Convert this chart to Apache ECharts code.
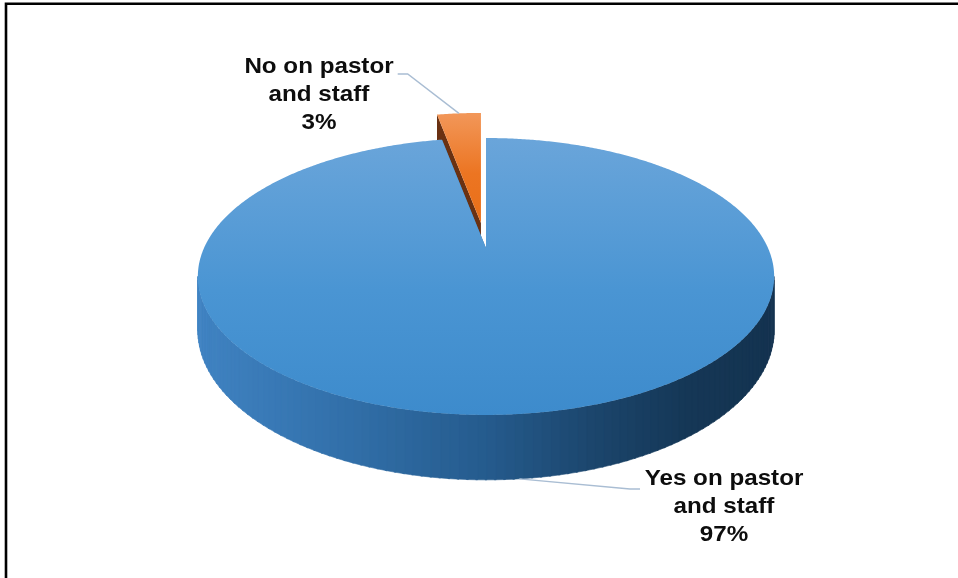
<!DOCTYPE html>
<html>
<head>
<meta charset="utf-8">
<script src="https://cdn.jsdelivr.net/npm/echarts@6/dist/echarts.min.js"></script>
<style>
  html, body { margin: 0; padding: 0; background: #ffffff; }
  #chart { width: 958px; height: 578px; }
</style>
</head>
<body>
<div id="chart"></div>
<script>
// Survey answers
const categories = ['Yes on pastor and staff', 'No on pastor and staff'];
const labelNames = ['Yes on pastor\nand staff', 'No on pastor\nand staff'];
const values = [97, 3];
const explodedIndex = 1;

// Slice colours: top face gradient stops and cut-wall colour
const topColors = [['#6aa5da', '#4a95d3', '#3d8bcc'], ['#f29759', '#ec7522', '#e96f18']];
const wallColors = ['#2f6ea6', '#6a3112'];

// Disc geometry on the page (perspective view of a tilted cylinder)
const CX = 486, CY = 248;          // projected centre of the top face
const RX = 282, RY = 132.6;        // half axes before perspective
const PERSP = 0.2056;              // depth foreshortening
const DEPTH = 51.6;                // thickness of the disc
const EXPLODE = 0.19;              // pull-out distance for the detached slice

// Label placement (centre of each text block) and leader elbows
const labelPos = [[724, 507], [319, 95]];
const leaderEnds = [[[630, 489], [640, 489]], [[407.7, 74], [397.7, 74]]];

const total = values.reduce((a, b) => a + b, 0);
const starts = [];
(function () {
  let acc = 0;
  values.forEach(v => { starts.push(acc / total * 360); acc += v; });
})();

const RAD = Math.PI / 180;
const silRight = Math.acos(-PERSP) / RAD;   // where the rim turns away from view
const silLeft = 360 - silRight;

function proj(deg, r) {
  const t = deg * RAD;
  const u = r * Math.sin(t), v = r * Math.cos(t);
  const p = 1 / (1 + PERSP * v);
  return [CX + RX * u * p, CY - RY * v * p, p];
}

// side shading across the width of the disc
const sideStops = [
  [0.00, [64, 131, 194]],
  [0.25, [50, 112, 170]],
  [0.50, [37, 91, 141]],
  [0.70, [27, 68, 106]],
  [0.85, [21, 55, 86]],
  [1.00, [20, 51, 80]]
];
function sideColor(x) {
  let t = (x - (CX - 288)) / 576;
  t = Math.max(0, Math.min(1, t));
  for (let k = 1; k < sideStops.length; k++) {
    if (t <= sideStops[k][0]) {
      const a = sideStops[k - 1], b = sideStops[k];
      const f = (t - a[0]) / (b[0] - a[0]);
      const c = a[1].map((c0, j) => Math.round(c0 + (b[1][j] - c0) * f));
      return 'rgb(' + c.join(',') + ')';
    }
  }
  return 'rgb(20,51,80)';
}

function renderItem(params, api) {
  const i = params.dataIndex;
  const val = api.value(0);
  const a0 = starts[i];
  const a1 = a0 + val / total * 360;
  const mid = (a0 + a1) / 2;
  const ex = i === explodedIndex ? EXPLODE : 0;
  const dx = RX * ex * Math.sin(mid * RAD);
  const dy = -RY * ex * Math.cos(mid * RAD);
  const P = (deg, r) => { const q = proj(deg, r); return [q[0] + dx, q[1] + dy, q[2]]; };
  const down = q => [q[0], q[1] + DEPTH * q[2]];
  const zb = i === explodedIndex ? 0 : 20;
  const children = [];

  // cut walls
  const c = P(0, 0);
  [a0, a1].forEach(edge => {
    const r = P(edge, 1);
    children.push({
      type: 'polygon', z2: zb + 1,
      shape: { points: [[c[0], c[1]], [r[0], r[1]], down(r), down(c)] },
      style: { fill: wallColors[i] }
    });
  });

  // outer rim, front part only
  const w0 = Math.max(a0, silRight), w1 = Math.min(a1, silLeft);
  if (w1 > w0) {
    const step = 1.5;
    for (let d = w0; d < w1; d += step) {
      const e = Math.min(d + step, w1);
      const p0 = P(d, 1), p1 = P(e + 0.3 > w1 ? w1 : e + 0.3, 1);
      const col = sideColor((p0[0] + p1[0]) / 2);
      children.push({
        type: 'polygon', z2: zb + 2,
        shape: { points: [[p0[0], p0[1]], [p1[0], p1[1]], down(p1), down(p0)] },
        style: { fill: col, stroke: col, lineWidth: 0.6 }
      });
    }
  }

  // top face
  const pts = [[c[0], c[1]]];
  for (let d = a0; d < a1; d += 0.5) { const q = P(d, 1); pts.push([q[0], q[1]]); }
  const qe = P(a1, 1); pts.push([qe[0], qe[1]]);
  const ys = pts.map(p => p[1]);
  const yTop = Math.min.apply(null, ys), yBot = Math.max.apply(null, ys);
  const tc = topColors[i];
  children.push({
    type: 'polygon', z2: zb + 3,
    shape: { points: pts },
    style: {
      fill: new echarts.graphic.LinearGradient(0, yTop, 0, yBot, [
        { offset: 0, color: tc[0] }, { offset: 0.55, color: tc[1] }, { offset: 1, color: tc[2] }
      ], true)
    }
  });

  // leader line: from the rim at the slice's middle angle to the label
  const anchorTop = P(mid, 1);
  const onFront = Math.cos(mid * RAD) < 0;
  const anchor = onFront ? down(anchorTop) : [anchorTop[0], anchorTop[1]];
  const le = leaderEnds[i];
  children.push({
    type: 'polyline', z2: 50,
    shape: { points: [anchor, le[0], le[1]] },
    style: { stroke: '#a9bdd3', lineWidth: 1.4, fill: null }
  });

  // label text
  children.push({
    type: 'text', z2: 51,
    x: labelPos[i][0], y: labelPos[i][1], scaleX: 1.1,
    style: {
      text: labelNames[i] + '\n' + val + '%',
      x: 0, y: 0,
      align: 'center', verticalAlign: 'middle',
      fontFamily: '"Liberation Sans", Arial, sans-serif',
      fontWeight: 'bold', fontSize: 22, lineHeight: 28,
      fill: '#0d0d0d'
    }
  });

  return { type: 'group', children: children };
}

const chart = echarts.init(document.getElementById('chart'), null, { renderer: 'canvas' });
chart.setOption({
  backgroundColor: '#ffffff',
  animation: false,
  graphic: [{
    type: 'rect', z: 100,
    shape: { x: 6, y: 3.8, width: 1200, height: 1200 },
    style: { fill: null, stroke: '#000000', lineWidth: 2.6 }
  }],
  series: [{
    type: 'custom',
    name: 'Pastor and staff',
    coordinateSystem: 'none',
    renderItem: renderItem,
    data: values.map((v, k) => ({ name: categories[k], value: [v] }))
  }]
});
</script>
</body>
</html>
